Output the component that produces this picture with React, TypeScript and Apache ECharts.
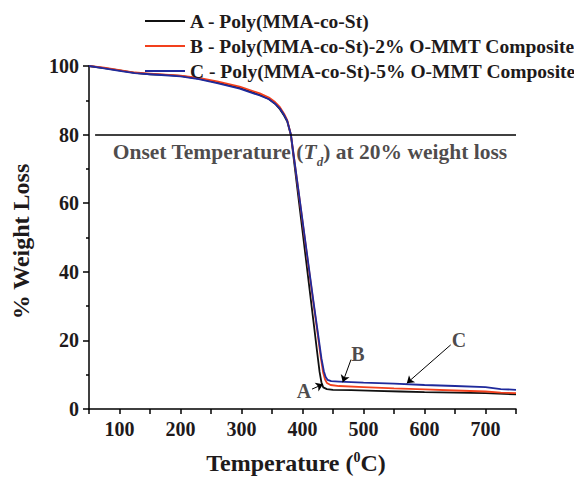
import React, { useEffect, useRef } from 'react';
import * as echarts from 'echarts';

const FONT = "'Liberation Serif', 'Times New Roman', serif";
const TEXT = '#1e1a1b';

const SERIES_NAMES = [
  'A - Poly(MMA-co-St)',
  'B - Poly(MMA-co-St)-2% O-MMT Composite',
  'C - Poly(MMA-co-St)-5% O-MMT Composite',
];
const SERIES_COLORS = ['#111111', '#f2401d', '#1f2a9c'];

const TEMP_A = [50, 75, 100, 125, 150, 175, 200, 230, 260, 297, 330, 345, 355, 363, 370, 375, 381, 388, 394, 400, 406, 412, 419, 424, 428, 431, 434, 440, 450, 480, 520, 560, 600, 650, 700, 750];
const WEIGHT_A = [100, 99.4, 98.7, 98.0, 97.6, 97.4, 97.1, 96.3, 95.2, 93.6, 91.6, 90.4, 89.0, 87.4, 85.5, 83.8, 79.8, 69.5, 60.7, 51.9, 43.1, 34.3, 24, 16.6, 10.8, 7.8, 6.3, 5.8, 5.6, 5.5, 5.3, 5.1, 4.9, 4.8, 4.6, 4.3];

const TEMP_B = [50, 75, 100, 125, 150, 175, 200, 230, 260, 297, 330, 345, 355, 363, 370, 375, 381, 388, 395, 402, 409, 416, 424, 430, 434, 437, 440, 446, 460, 500, 550, 600, 650, 700, 725, 750];
const WEIGHT_B = [100, 99.5, 98.8, 98.1, 97.8, 97.5, 97.2, 96.5, 95.5, 94.0, 92.0, 90.8, 89.5, 88.0, 86.0, 84.2, 80, 70.7, 61.4, 52, 42.7, 33.4, 23, 15, 10.5, 8.6, 7.6, 7.0, 6.7, 6.4, 6.0, 5.7, 5.4, 5.1, 4.8, 4.6];

const TEMP_C = [50, 75, 100, 125, 150, 175, 200, 230, 260, 297, 330, 345, 355, 363, 370, 375, 381, 388, 395, 402, 410, 418, 425, 431, 435, 438, 441, 447, 460, 500, 550, 600, 650, 700, 725, 750];
const WEIGHT_C = [100, 99.3, 98.6, 97.9, 97.6, 97.3, 97.0, 96.2, 95.0, 93.4, 91.4, 90.3, 89.0, 87.6, 85.7, 84.0, 80, 70.8, 61.6, 52.4, 41.8, 31.3, 22.5, 14.8, 11, 9.3, 8.5, 8.1, 8.0, 7.7, 7.4, 7.0, 6.7, 6.4, 5.8, 5.6];

const X_LABELS = [100, 200, 300, 400, 500, 600, 700];
const ONSET_LEVEL = 80;
const ONSET_LINE_X = [60, 750];
const ONSET_TEXT_POS = [412, 75];

const NOTE_LABELS = ['A', 'B', 'C'];
const NOTE_X = [402.5, 491, 656.6];
const NOTE_Y = [5.3, 15.9, 20.1];
const ARROW_FROM_X = [415.6, 479.5, 643];
const ARROW_FROM_Y = [5.8, 14.4, 18.7];
const ARROW_TO_X = [433.6, 466, 571];
const ARROW_TO_Y = [7.2, 7.8, 7.5];

const pairs = (xs: number[], ys: number[]) => xs.map((x, i) => [x, ys[i]]);

export default function App() {
  const ref = useRef<HTMLDivElement>(null);
  useEffect(() => {
    if (!ref.current) return;
    const chart = echarts.init(ref.current, undefined, { renderer: 'svg' });
    const axisLine = { lineStyle: { color: '#000', width: 1.5 } };
    const labelStyle = { fontFamily: FONT, fontSize: 20, fontWeight: 'bold' as const, color: TEXT };
    const lineData = [
      pairs(TEMP_A, WEIGHT_A),
      pairs(TEMP_B, WEIGHT_B),
      pairs(TEMP_C, WEIGHT_C),
    ];
    const arrows = NOTE_LABELS.map((_, i) => [
      { coord: [ARROW_FROM_X[i], ARROW_FROM_Y[i]], symbol: 'none' },
      { coord: [ARROW_TO_X[i], ARROW_TO_Y[i]], symbol: 'arrow' },
    ]);
    const option: any = {
      animation: false,
      backgroundColor: '#fff',
      grid: { left: 89, right: 58, top: 66, bottom: 67 },
      legend: {
        data: SERIES_NAMES,
        orient: 'vertical',
        left: 140,
        top: 6,
        itemWidth: 40,
        itemHeight: 2,
        itemGap: 5,
        icon: 'rect',
        textStyle: { fontFamily: FONT, fontWeight: 'bold', fontSize: 19.5, color: TEXT, lineHeight: 19.5 },
      },
      xAxis: {
        type: 'value',
        min: 50,
        max: 750,
        interval: 50,
        axisLine: { ...axisLine, onZero: false },
        axisTick: { length: 5, lineStyle: { color: '#000', width: 1.5 } },
        axisLabel: {
          ...labelStyle,
          margin: 10,
          formatter: (v: number) => (X_LABELS.includes(v) ? String(v) : ''),
        },
        splitLine: { show: false },
        name: '{a|Temperature (}{s|0}{a|C)}',
        nameLocation: 'middle',
        nameGap: 41,
        nameTextStyle: {
          padding: [0, 13, 0, 0],
          rich: {
            a: { fontFamily: FONT, fontSize: 24, fontWeight: 'bold', color: TEXT, lineHeight: 26 },
            s: { fontFamily: FONT, fontSize: 14, fontWeight: 'bold', color: TEXT, lineHeight: 14, verticalAlign: 'top', padding: [0, 0, 10, 0] },
          },
        },
      },
      yAxis: {
        type: 'value',
        min: 0,
        max: 100,
        interval: 20,
        axisLine: { ...axisLine, show: true },
        axisTick: { show: true, length: 6, lineStyle: { color: '#000', width: 1.5 } },
        minorTick: { show: true, splitNumber: 2, length: 3, lineStyle: { color: '#000', width: 1.5 } },
        axisLabel: { ...labelStyle, margin: 10 },
        splitLine: { show: false },
        name: '% Weight Loss',
        nameLocation: 'middle',
        nameGap: 56,
        nameTextStyle: { fontFamily: FONT, fontSize: 24, fontWeight: 'bold', color: TEXT, padding: [0, 8, 0, 0] },
      },
      series: [
        ...SERIES_NAMES.map((name, i) => ({
          name,
          type: 'line',
          data: lineData[i],
          showSymbol: false,
          symbol: 'none',
          lineStyle: { color: SERIES_COLORS[i], width: 1.8 },
          itemStyle: { color: SERIES_COLORS[i] },
          z: 2 + i,
        })),
        {
          type: 'scatter',
          silent: true,
          data: NOTE_LABELS.map((l, i) => ({ value: [NOTE_X[i], NOTE_Y[i]], name: l })),
          symbolSize: 1,
          itemStyle: { color: 'rgba(0,0,0,0)' },
          label: { show: true, position: 'inside', formatter: (p: any) => p.name, ...labelStyle },
          markLine: {
            silent: true,
            symbolSize: 7,
            label: { show: false },
            lineStyle: { color: '#000', width: 1, type: 'solid' },
            data: [
              ...arrows,
              [
                { coord: [ONSET_LINE_X[0], ONSET_LEVEL], symbol: 'none', lineStyle: { width: 1.5 } },
                { coord: [ONSET_LINE_X[1], ONSET_LEVEL], symbol: 'none' },
              ],
            ],
          },
          z: 6,
        },
        {
          type: 'scatter',
          silent: true,
          data: [{ value: ONSET_TEXT_POS, name: 'onset' }],
          symbolSize: 1,
          itemStyle: { color: 'rgba(0,0,0,0)' },
          label: {
            show: true,
            position: 'inside',
            formatter: '{n|Onset Temperature (}{i|T}{d|d}{n|) at 20% weight loss}',
            rich: {
              n: { fontFamily: FONT, fontSize: 21.5, fontWeight: 'bold', color: TEXT, lineHeight: 33 },
              i: { fontFamily: FONT, fontSize: 21.5, fontWeight: 'bold', fontStyle: 'italic', color: TEXT, lineHeight: 33 },
              d: { fontFamily: FONT, fontSize: 13, fontWeight: 'bold', fontStyle: 'italic', color: TEXT, lineHeight: 13, verticalAlign: 'bottom', padding: [20, 0, 0, 0] },
            },
          },
          z: 6,
        },
      ],
    };
    chart.setOption(option);
    return () => chart.dispose();
  }, []);
  return <div ref={ref} style={{ position: 'fixed', left: 0, top: 0, width: 574, height: 480 }} />;
}
